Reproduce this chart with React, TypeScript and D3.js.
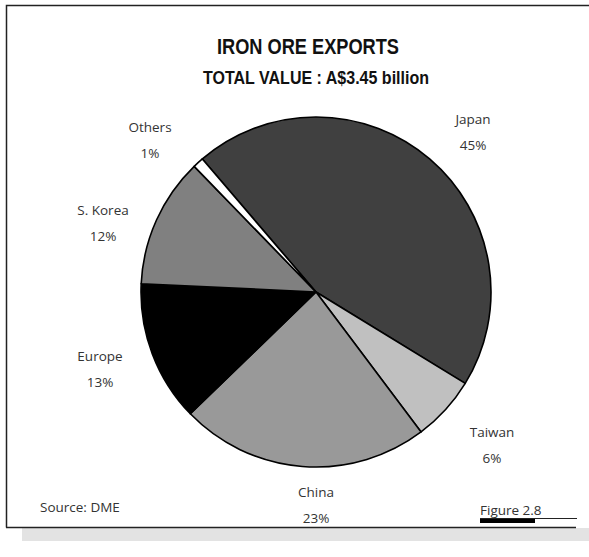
import React from "react";
import * as d3 from "d3";

const categories = ["Japan", "Taiwan", "China", "Europe", "S. Korea", "Others"];
const shares = [45, 6, 23, 13, 12, 1];
const sliceColors = ["#404040", "#c0c0c0", "#999999", "#000000", "#808080", "#ffffff"];
const labelPositions = [
  [473, 124],
  [492, 437],
  [316, 497],
  [100, 361],
  [103, 215],
  [150, 132],
];
const titleText = "IRON ORE EXPORTS";
const subtitleText = "TOTAL VALUE : A$3.45 billion";
const sourceText = "Source: DME";
const figureText = "Figure 2.8";

const W = 589;
const H = 557;

export default function App() {
  const cx = 316;
  const cy = 292;
  const r = 175;
  const startDeg = -40.5;
  const pie = d3
    .pie<number>()
    .sort(null)
    .value((d) => d)
    .startAngle((startDeg * Math.PI) / 180)
    .endAngle(((startDeg + 360) * Math.PI) / 180);
  const arcs = pie(shares);
  const arcGen = d3.arc<d3.PieArcDatum<number>>().innerRadius(0).outerRadius(r);
  const labelFont = "'Open Sans', Lato, sans-serif";
  const titleFont = "'Liberation Sans', Arial, sans-serif";

  return (
    <svg
      width={W}
      height={H}
      style={{ position: "absolute", left: 0, top: 0, background: "#fff" }}
    >
      {/* shadow */}
      <rect x={22} y={528} width={567} height={13} fill="#e3e3e3" />
      {/* frame */}
      <path d="M6.5,527.5 L6.5,5.5 L589,5.5" fill="none" stroke="#222" strokeWidth={1.5} />
      <line x1={6} y1={527.5} x2={576} y2={527.5} stroke="#222" strokeWidth={1.5} />

      <text
        x={308}
        y={54}
        textAnchor="middle"
        fontFamily={titleFont}
        fontWeight="bold"
        fontSize={22}
        fill="#111"
        textLength={182}
        lengthAdjust="spacingAndGlyphs"
      >
        {titleText}
      </text>
      <text
        x={316}
        y={84}
        textAnchor="middle"
        fontFamily={titleFont}
        fontWeight="bold"
        fontSize={19}
        fill="#111"
        textLength={226}
        lengthAdjust="spacingAndGlyphs"
      >
        {subtitleText}
      </text>

      <g transform={`translate(${cx},${cy})`}>
        {arcs.map((a, i) => (
          <path
            key={categories[i]}
            d={arcGen(a) || ""}
            fill={sliceColors[i]}
            stroke="#000"
            strokeWidth={1.6}
            strokeLinejoin="round"
          />
        ))}
      </g>

      {categories.map((c, i) => (
        <g key={c} fontFamily={labelFont} fontSize={13.5} fill="#333" textAnchor="middle">
          <text x={labelPositions[i][0]} y={labelPositions[i][1]}>
            {c}
          </text>
          <text x={labelPositions[i][0]} y={labelPositions[i][1] + 26}>
            {shares[i]}%
          </text>
        </g>
      ))}

      <text x={40} y={512} fontFamily={labelFont} fontSize={13.5} fill="#333">
        {sourceText}
      </text>
      <text x={480} y={515} fontFamily={labelFont} fontSize={13.5} fill="#333">
        {figureText}
      </text>
      <line x1={480} y1={518.5} x2={577} y2={518.5} stroke="#222" strokeWidth={1} />
      <rect x={480} y={519} width={55} height={4} fill="#000" />
    </svg>
  );
}
